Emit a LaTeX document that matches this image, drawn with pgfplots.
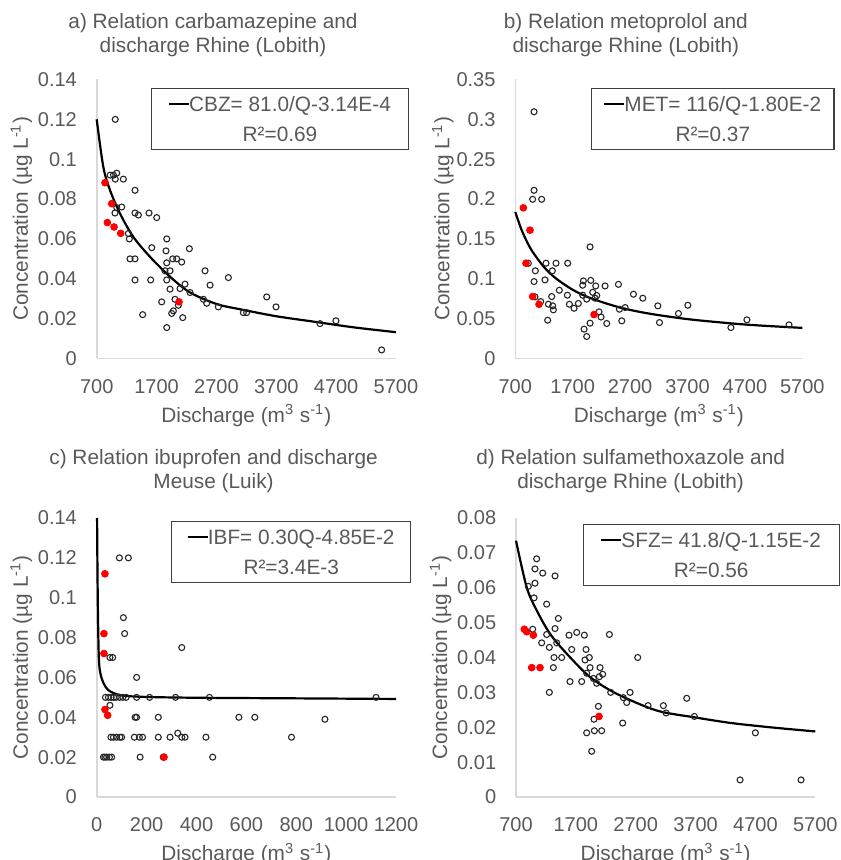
\documentclass[border=0pt]{standalone}
\usepackage{fontspec}
\setmainfont{Liberation Sans}
\usepackage{pgfplots}
\pgfplotsset{compat=1.18}

\definecolor{txt}{HTML}{595959}
\definecolor{axln}{HTML}{D9D9D9}
\definecolor{dot}{HTML}{FF0000}

\pgfplotsset{
  panel/.style={
    scale only axis, height=139.5pt,
    axis lines*=left,
    axis line style={draw=axln, line width=0.8pt, -},
    tick style={draw=none},
    major tick length=0pt,
    ymin=0,
    scaled x ticks=false, scaled y ticks=false,
    ticklabel style={font=\fontsize{10}{12}\selectfont, text=txt},
    /pgf/number format/assume math mode=true,
    /pgf/number format/1000 sep={},
    /pgf/number format/fixed,
    /pgf/number format/precision=2,
    xticklabel shift=6.8pt, yticklabel shift=6.4pt,
    label style={font=\fontsize{10.4}{12}\selectfont, text=txt},
    xlabel={Discharge (m\textsuperscript{3} s\textsuperscript{-1})},
    ylabel={Concentration (µg L\textsuperscript{-1})},
    xlabel style={at={(axis description cs:0.5,-0.205)}, anchor=center},
    ylabel style={at={(axis description cs:-0.252,0.5)}, anchor=center},
    clip=false,
  },
  obs/.style={only marks, mark=o, mark size=1.5pt,
    mark options={draw=black!85, line width=0.55pt}},
  hot/.style={only marks, mark=*, mark size=1.7pt,
    mark options={draw=dot, fill=dot}},
  fit/.style={no marks, black, line width=1.1pt, smooth},
}
\tikzset{
  eqbox/.style={draw=black!75, line width=0.6pt, inner sep=0pt, align=center,
    text=txt, font=\fontsize{10.4}{15}\selectfont, minimum height=30.5pt},
  ttl/.style={align=center, text=txt, font=\fontsize{10.4}{12}\selectfont},
}
\newcommand{\fitline}{\textcolor{black}{\rule[0.3em]{10pt}{1.1pt}}}

\begin{document}
\begin{tikzpicture}
\useasboundingbox (0,0) rectangle (420pt,430pt);

% ---------- a) carbamazepine ----------
\begin{axis}[panel, at={(48.35pt,250.75pt)}, anchor=south west, width=149.65pt,
  xmin=700, xmax=5700, ymax=0.14,
  xtick={700,1700,2700,3700,4700,5700},
  ytick={0,0.02,0.04,0.06,0.08,0.1,0.12,0.14}]
\addplot[obs] coordinates {
 (1010,0.120) (925,0.092) (980,0.092) (1035,0.093) (1010,0.090) (1145,0.090)
 (1340,0.0844) (1034,0.0757) (1005,0.073) (1118,0.076)
 (1340,0.073) (1396,0.072) (1574,0.073) (1702,0.0707)
 (1229,0.0627) (1245,0.060) (1620,0.0556) (1870,0.060) (2248,0.0551) (1858,0.054)
 (1257,0.050) (1340,0.050) (1970,0.050) (2036,0.050) (2120,0.0484) (1870,0.048)
 (1840,0.044) (1925,0.044) (2510,0.044)
 (1340,0.0394) (1602,0.0394) (1870,0.0394) (2900,0.0406)
 (2594,0.0368) (1925,0.0348) (2092,0.0351) (2175,0.0373) (2259,0.0331)
 (2482,0.0297) (2538,0.0277) (2732,0.0259)
 (1786,0.0284) (2008,0.0297) (2064,0.0267) (1981,0.0239) (1953,0.0226)
 (2137,0.0205) (1468,0.0220) (1870,0.0155)
 (3150,0.023) (3205,0.023) (3540,0.0309) (3696,0.0259)
 (4430,0.0175) (4697,0.0189) (5460,0.0043)
};
\addplot[fit] coordinates {
 (700,0.120) (810,0.0962) (922,0.0845) (1090,0.0727) (1312,0.061) (1591,0.051)
 (1926,0.041) (2260,0.0331) (2706,0.0273) (3096,0.0247) (3700,0.0212)
 (4322,0.0185) (5000,0.0156) (5700,0.0132)
};
\addplot[hot] coordinates {
 (839,0.0882) (951,0.0777) (878,0.0682) (990,0.066) (1101,0.0628) (2075,0.0284)
};
\end{axis}

% ---------- b) metoprolol ----------
\begin{axis}[panel, at={(257.65pt,250.75pt)}, anchor=south west, width=143.5pt,
  xmin=700, xmax=5700, ymax=0.35,
  xtick={700,1700,2700,3700,4700,5700},
  ytick={0,0.05,0.1,0.15,0.2,0.25,0.3,0.35}]
\addplot[obs] coordinates {
 (1026,0.3095) (1026,0.211) (1002,0.1997) (1159,0.1997)
 (927,0.1195) (1235,0.1195) (1409,0.1195) (1613,0.1195)
 (1345,0.110) (1049,0.110) (1026,0.0965) (1217,0.0986)
 (1467,0.0856) (1334,0.0777) (1607,0.0794) (1043,0.0773) (1142,0.0714)
 (1276,0.0681) (1351,0.066) (1363,0.061) (1264,0.048)
 (1642,0.068) (1723,0.063) (1799,0.069)
 (1874,0.0794) (1874,0.0919) (1886,0.0973) (2002,0.140) (2014,0.098)
 (2101,0.091) (2049,0.083) (2119,0.079) (2090,0.0756) (1944,0.0744)
 (2264,0.091) (2159,0.0585) (2194,0.052) (2293,0.0439)
 (2002,0.0443) (1898,0.0368) (1944,0.0276)
 (2497,0.093) (2758,0.0806) (2921,0.0756)
 (2514,0.0618) (2613,0.0639) (2555,0.0472)
 (3183,0.066) (3212,0.0451) (3543,0.0564) (3706,0.0668)
 (4456,0.0388) (4735,0.0485) (5468,0.0422)
};
\addplot[fit] coordinates {
 (700,0.1837) (800,0.163) (900,0.1469) (1000,0.134) (1200,0.1147) (1400,0.1009)
 (1700,0.0862) (2000,0.076) (2500,0.0644) (3000,0.0567) (3700,0.0494)
 (4500,0.0438) (5000,0.0412) (5700,0.0384)
};
\addplot[hot] coordinates {
 (840,0.189) (956,0.161) (886,0.1195) (1002,0.0777) (1113,0.068) (2072,0.0551)
};
\end{axis}

% ---------- c) ibuprofen ----------
\begin{axis}[panel, at={(48.35pt,31.5pt)}, anchor=south west, width=149.65pt,
  xmin=0, xmax=1200, ymax=0.14,
  xtick={0,200,400,600,800,1000,1200},
  ytick={0,0.02,0.04,0.06,0.08,0.1,0.12,0.14}]
\addplot[obs] coordinates {
 (91,0.12) (127,0.12) (107,0.09) (112,0.082) (341,0.075)
 (53,0.07) (64,0.07) (160,0.06)
 (35,0.05) (47,0.05) (58,0.05) (68,0.05) (78,0.05) (92,0.05) (105,0.05)
 (118,0.05) (160,0.05) (212,0.05) (316,0.05) (452,0.05) (1120,0.05)
 (53,0.046)
 (154,0.04) (160,0.04) (247,0.04) (570,0.04) (634,0.04) (915,0.039)
 (57,0.03) (67,0.03) (80,0.03) (93,0.03) (100,0.03) (151,0.03) (171,0.03)
 (184,0.03) (247,0.03) (294,0.03) (341,0.03) (354,0.03) (438,0.03) (781,0.03)
 (325,0.032)
 (27,0.02) (33,0.02) (40,0.02) (51,0.02) (60,0.02) (174,0.02) (267,0.02) (465,0.02)
};
\addplot[fit] coordinates {
 (1.5,0.14) (3,0.115) (5,0.092) (8,0.072) (12,0.064) (20,0.0595) (30,0.0565)
 (45,0.0538) (70,0.052) (110,0.0508) (200,0.0502) (400,0.0498) (800,0.0495)
 (1200,0.0492)
};
\addplot[hot] coordinates {
 (33,0.112) (29,0.082) (29,0.072) (33,0.0439) (44,0.041) (270,0.020)
};
\end{axis}

% ---------- d) sulfamethoxazole ----------
\begin{axis}[panel, at={(258pt,31.5pt)}, anchor=south west, width=149.65pt,
  xmin=700, xmax=5700, ymax=0.08,
  xtick={700,1700,2700,3700,4700,5700},
  ytick={0,0.01,0.02,0.03,0.04,0.05,0.06,0.07,0.08}]
\addplot[obs] coordinates {
 (1045,0.0683) (1017,0.0654) (1146,0.0642) (1352,0.0634) (1017,0.0613)
 (906,0.0604) (1001,0.0571) (1212,0.0553) (1407,0.0512) (1352,0.0483)
 (979,0.0481) (1212,0.0466) (1129,0.0442) (1380,0.0442) (1257,0.0429)
 (1335,0.040) (1463,0.040) (1324,0.0371) (1257,0.030)
 (1586,0.0464) (1714,0.0472) (1842,0.0464) (1630,0.0423)
 (1870,0.0423) (1853,0.0393) (1925,0.040) (1937,0.0371)
 (1602,0.0331) (1797,0.0331) (1881,0.0355) (1992,0.034) (2048,0.0326)
 (2104,0.0371) (2148,0.0352) (2092,0.0345) (2260,0.0466) (2282,0.030)
 (2076,0.026) (2003,0.0223) (1881,0.0184) (2009,0.019) (2131,0.019)
 (1964,0.0131) (2493,0.0285) (2549,0.0271) (2605,0.030) (2482,0.0212)
 (2733,0.040) (2906,0.0262) (3162,0.0262) (3207,0.0241)
 (3552,0.0283) (3680,0.0231) (4443,0.0049) (4699,0.0184) (5462,0.0049)
};
\addplot[fit] coordinates {
 (700,0.0735) (879,0.0601) (1046,0.0535) (1268,0.0468) (1547,0.0411)
 (1936,0.0344) (2382,0.0296) (3050,0.0248) (3700,0.0228) (4300,0.0212)
 (5000,0.0199) (5700,0.0188)
};
\addplot[hot] coordinates {
 (839,0.0481) (878,0.0474) (990,0.0464) (962,0.0371) (1101,0.0371) (2087,0.0231)
};
\end{axis}

% panel titles
\node[ttl] at (106.5pt,412.6pt) {a) Relation carbamazepine and\\discharge Rhine (Lobith)};
\node[ttl] at (312.9pt,412.6pt) {b) Relation metoprolol and\\discharge Rhine (Lobith)};
\node[ttl] at (106.8pt,194.3pt) {c) Relation ibuprofen and discharge\\Meuse (Luik)};
\node[ttl] at (315.3pt,194.3pt) {d) Relation sulfamethoxazole and\\discharge Rhine (Lobith)};

% fitted-equation boxes
\node[eqbox, minimum width=128.3pt] at (140pt,370.6pt)
  {\fitline CBZ= 81.0/Q-3.14E-4\\R²=0.69};
\node[eqbox, minimum width=121.2pt] at (356.4pt,370.4pt)
  {\fitline MET= 116/Q-1.80E-2\\R²=0.37};
\node[eqbox, minimum width=119.5pt] at (145.6pt,154pt)
  {\fitline IBF= 0.30Q-4.85E-2\\R²=3.4E-3};
\node[eqbox, minimum width=128pt] at (355.6pt,152.6pt)
  {\fitline SFZ= 41.8/Q-1.15E-2\\R²=0.56};
\end{tikzpicture}
\end{document}
